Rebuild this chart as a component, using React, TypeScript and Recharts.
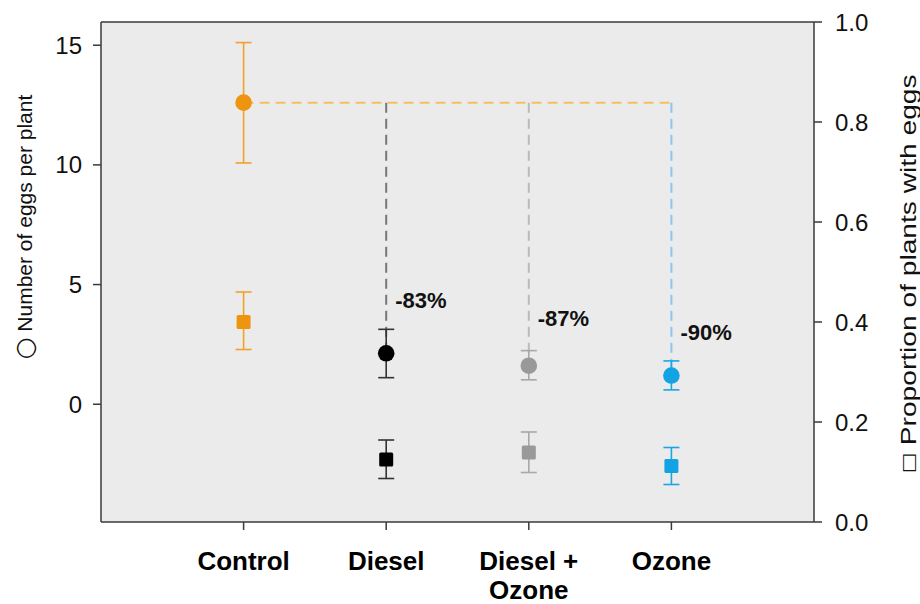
import React from 'react';
import {
  ComposedChart,
  Scatter,
  XAxis,
  YAxis,
  ErrorBar,
  ReferenceLine,
  CartesianGrid,
} from 'recharts';

// Treatments, in order, as they sit on the x axis
const treatmentLines: string[][] = [['Control'], ['Diesel'], ['Diesel +', 'Ozone'], ['Ozone']];
const treatmentPos = [1, 2, 3, 4];

// Number of eggs per plant (circles, left axis): mean with lower / upper bound
const eggMean = [12.6, 2.13, 1.61, 1.2];
const eggLow = [10.08, 1.11, 1.02, 0.6];
const eggHigh = [15.11, 3.13, 2.24, 1.81];

// Proportion of plants with eggs (squares, right axis)
const propMean = [0.4, 0.125, 0.139, 0.112];
const propLow = [0.345, 0.087, 0.099, 0.075];
const propHigh = [0.46, 0.164, 0.18, 0.149];

// Reduction relative to Control, and the height (egg units) where each note sits
const reductionText = ['-83%', '-87%', '-90%'];
const reductionY = [4.36, 3.61, 3.02];

const eggTicks = [0, 5, 10, 15];
const propTicks = [0, 0.2, 0.4, 0.6, 0.8, 1.0];
const eggDomain = [-4.92, 15.97];
const propDomain = [0, 1];

const markerColors = ['#EE9510', '#000000', '#999999', '#12A3E3'];
const errorColors = ['#F2A12A', '#333333', '#A8A8A8', '#1CA4E3'];
const guideColors = ['#F7BF62', '#777777', '#BBBBBB', '#8CC6EE'];

const FONT = '"Liberation Sans", Arial, Helvetica, sans-serif';
const AXIS = '#3a3a3a';

const eggSeries = treatmentPos.map((x, i) => [
  { x, y: eggMean[i], err: [eggMean[i] - eggLow[i], eggHigh[i] - eggMean[i]] },
]);
const propSeries = treatmentPos.map((x, i) => [
  { x, y: propMean[i], err: [propMean[i] - propLow[i], propHigh[i] - propMean[i]] },
]);
const notes = reductionText.map((text, i) => ({ x: treatmentPos[i + 1], y: reductionY[i], text }));

const CategoryTick = (props: any) => {
  const { x, y, payload } = props;
  const lines = treatmentLines[treatmentPos.indexOf(payload.value)] || [];
  return (
    <text x={x} y={y + 40} textAnchor="middle" fontFamily={FONT} fontWeight="bold" fontSize={26} fill="#000">
      {lines.map((l, k) => (
        <tspan key={k} x={x} dy={k === 0 ? 0 : 29}>
          {l}
        </tspan>
      ))}
    </text>
  );
};

const circleShape = (color: string) => (p: any) => <circle cx={p.cx} cy={p.cy} r={8.3} fill={color} />;
const squareShape = (color: string) => (p: any) => (
  <rect x={p.cx - 7} y={p.cy - 7} width={14} height={14} rx={1.5} fill={color} />
);
const noteShape = (p: any) => (
  <text x={p.cx + 9} y={p.cy} dy="0.35em" fontFamily={FONT} fontWeight="bold" fontSize={22} fill="#111">
    {p.payload.text}
  </text>
);

const LeftTitle = (props: any) => {
  const vb = props.viewBox;
  const cx = vb.x + 24;
  const cy = vb.y + vb.height / 2 - 45;
  return (
    <text x={cx} y={cy} transform={`rotate(-90 ${cx} ${cy})`} textAnchor="middle" dominantBaseline="central"
      fontFamily={FONT} fontSize={21} fill="#111">
      <tspan fontFamily='"DejaVu Sans", sans-serif' fontSize={25}>○</tspan> Number of eggs per plant
    </text>
  );
};

const RightTitle = (props: any) => {
  const vb = props.viewBox;
  const cx = vb.x + vb.width - 12;
  const cy = vb.y + vb.height / 2 + 2;
  return (
    <g transform={`translate(${cx} ${cy}) rotate(-90) scale(1.28 1)`}>
      <text x={0} y={0} textAnchor="middle" dominantBaseline="central" fontFamily={FONT} fontSize={22} fill="#111">
        <tspan fontFamily='"DejaVu Sans", sans-serif' fontSize={17}>□</tspan> Proportion of plants with eggs
      </text>
    </g>
  );
};

export default function App() {
  const tickStyle = { fontFamily: FONT, fontSize: 24, fill: '#111' };
  return (
    <div style={{ position: 'absolute', left: 0, top: 0, width: 920, height: 604, background: '#fff' }}>
      <ComposedChart width={920} height={604} margin={{ top: 22, right: 0, bottom: 0, left: 0 }}>
        <CartesianGrid fill="#EBEBEB" horizontal={false} vertical={false} yAxisId="eggs" />
        <XAxis
          type="number"
          dataKey="x"
          domain={[0, 5]}
          ticks={treatmentPos}
          allowDataOverflow
          height={82}
          tickSize={8}
          tickMargin={0}
          tick={<CategoryTick />}
          axisLine={{ stroke: AXIS, strokeWidth: 1.5 }}
          tickLine={{ stroke: AXIS, strokeWidth: 1.5 }}
        />
        <YAxis
          yAxisId="eggs"
          type="number"
          domain={eggDomain}
          ticks={eggTicks}
          allowDataOverflow
          width={101}
          tickSize={8}
          tickMargin={11}
          tick={tickStyle}
          axisLine={{ stroke: AXIS, strokeWidth: 1.5 }}
          tickLine={{ stroke: AXIS, strokeWidth: 1.5 }}
          label={<LeftTitle />}
        />
        <YAxis
          yAxisId="prop"
          orientation="right"
          type="number"
          domain={propDomain}
          ticks={propTicks}
          allowDataOverflow
          width={106}
          tickSize={8}
          tickMargin={13}
          tick={tickStyle}
          tickFormatter={(v: number) => v.toFixed(1)}
          axisLine={{ stroke: AXIS, strokeWidth: 1.5 }}
          tickLine={{ stroke: AXIS, strokeWidth: 1.5 }}
          label={<RightTitle />}
        />

        {/* top edge of the frame */}
        <ReferenceLine yAxisId="prop" y={propDomain[1]} stroke={AXIS} strokeWidth={1.5} ifOverflow="visible" />

        {/* Control level carried across, then dropped to each treatment */}
        <ReferenceLine
          yAxisId="eggs"
          segment={[{ x: treatmentPos[0], y: eggMean[0] }, { x: treatmentPos[3], y: eggMean[0] }]}
          stroke={guideColors[0]}
          strokeWidth={2}
          strokeDasharray="10 6"
          ifOverflow="visible"
        />
        {[1, 2, 3].map((i) => (
          <ReferenceLine
            key={`drop-${i}`}
            yAxisId="eggs"
            segment={[{ x: treatmentPos[i], y: eggMean[0] }, { x: treatmentPos[i], y: eggMean[i] }]}
            stroke={guideColors[i]}
            strokeWidth={2}
            strokeDasharray="10 6"
            ifOverflow="visible"
          />
        ))}

        {treatmentPos.map((_, i) => (
          <Scatter key={`egg-${i}`} yAxisId="eggs" data={eggSeries[i]} dataKey="y" shape={circleShape(markerColors[i])}
            isAnimationActive={false}>
            <ErrorBar dataKey="err" direction="y" width={8} stroke={errorColors[i]} strokeWidth={1.6} />
          </Scatter>
        ))}
        {treatmentPos.map((_, i) => (
          <Scatter key={`prop-${i}`} yAxisId="prop" data={propSeries[i]} dataKey="y" shape={squareShape(markerColors[i])}
            isAnimationActive={false}>
            <ErrorBar dataKey="err" direction="y" width={8} stroke={errorColors[i]} strokeWidth={1.6} />
          </Scatter>
        ))}
        <Scatter yAxisId="eggs" data={notes} dataKey="y" shape={noteShape} isAnimationActive={false} />
      </ComposedChart>
    </div>
  );
}
